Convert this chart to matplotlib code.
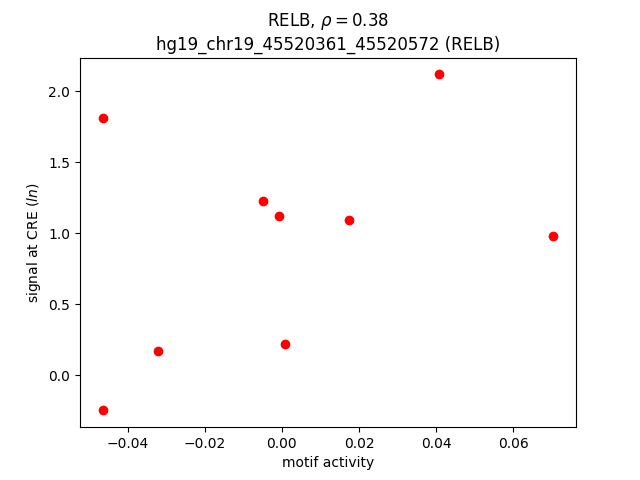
import numpy as np
import matplotlib
matplotlib.use("Agg")
import matplotlib.pyplot as plt

# --- Data ---
motif_activity = [-0.0465, 0.0408, -0.0049, -0.0008, 0.0174, 0.0704, -0.0322, 0.0008, -0.0465]
cre_signal = [1.81, 2.12, 1.23, 1.12, 1.095, 0.98, 0.17, 0.22, -0.246]

tf_name = "RELB"
rho = 0.38
cre_name = "hg19_chr19_45520361_45520572"

fig, ax = plt.subplots(figsize=(6.4, 4.8), dpi=100)
ax.scatter(motif_activity, cre_signal, c="red")
ax.set_title(f"{tf_name}, $\\rho = ${rho:.2f}\n{cre_name} ({tf_name})")
ax.set_xlabel("motif activity")
ax.set_ylabel("signal at CRE ($ln$)")

fig.savefig("out.png")
